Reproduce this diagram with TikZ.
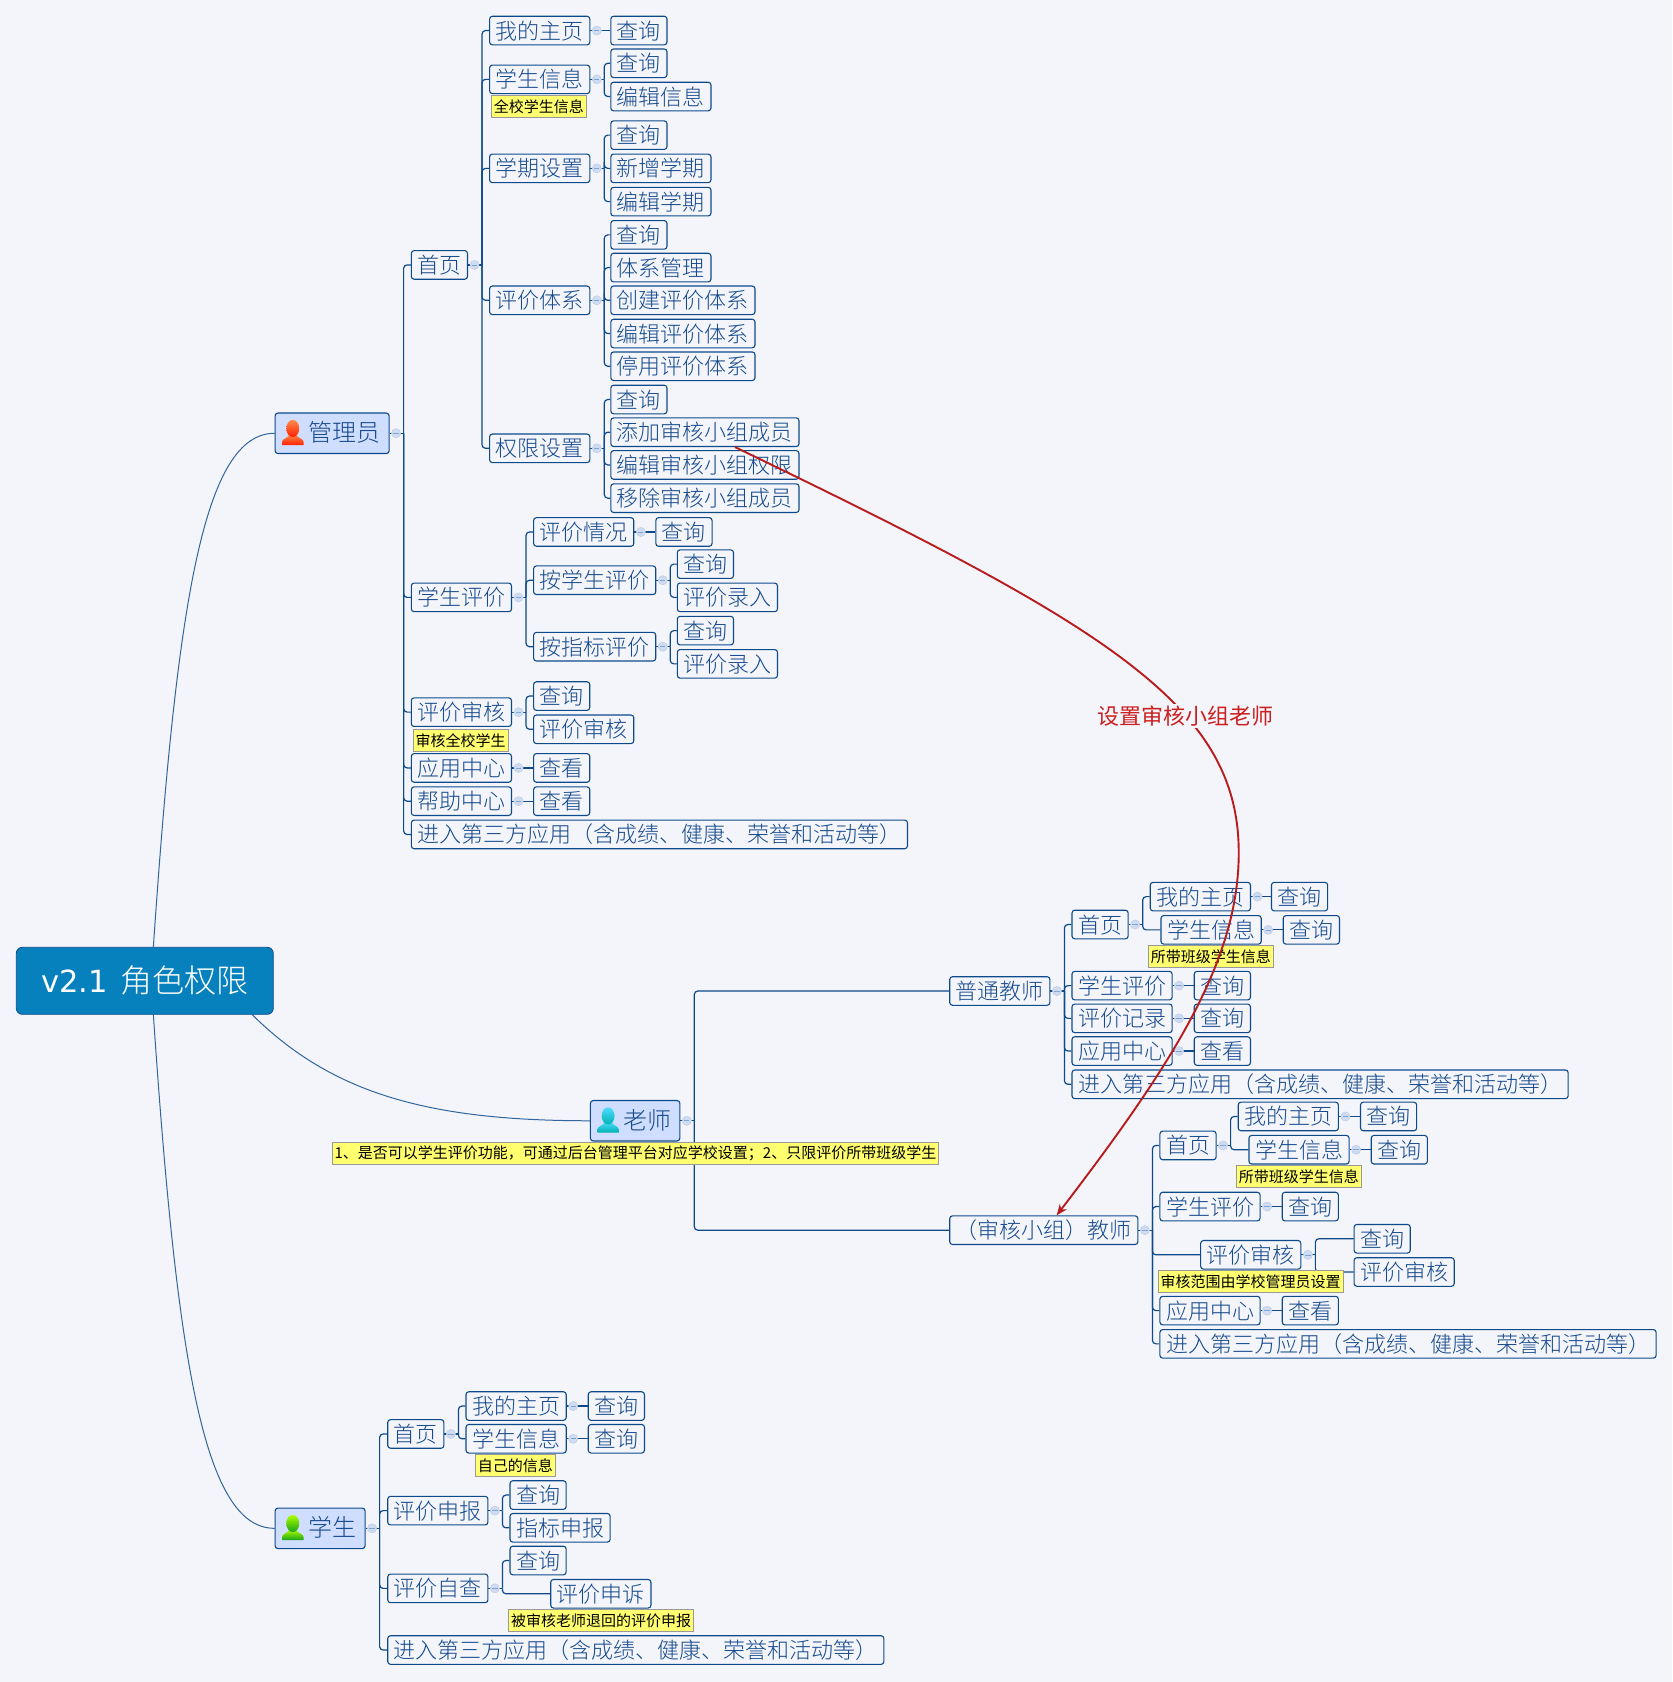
\documentclass[tikz,border=0pt]{standalone}
\usepackage{fontspec}
\setmainfont{Noto Sans CJK SC Light}
\newfontfamily\latinfont{DejaVu Sans}
\newfontfamily\notefont{Noto Sans CJK SC}
\usetikzlibrary{calc,arrows.meta}
\definecolor{pagebg}{HTML}{F3F5FB}
\definecolor{edgeblue}{HTML}{0E4A8A}
\definecolor{textblue}{HTML}{174A8C}
\definecolor{mainfill}{HTML}{CFDDFF}
\definecolor{notefill}{HTML}{FFFF70}
\definecolor{rootfill}{HTML}{0681BE}
\definecolor{foldfill}{HTML}{CDDBF5}
\definecolor{relred}{HTML}{B81C1C}
\definecolor{labelred}{HTML}{CC1F1F}
\pgfdeclarelayer{bg}\pgfdeclarelayer{edges}
\pgfsetlayers{bg,edges,main}
\tikzset{
  leaf/.style={draw=edgeblue,line width=1.1pt,rounded corners=2.8pt,fill=pagebg,anchor=west,
    inner xsep=6.1pt,inner ysep=0pt,minimum height=28.6pt,text height=18.5pt,text depth=1.5pt,
    text=textblue,font=\fontsize{22pt}{24pt}\selectfont},
  mainbox/.style={leaf,fill=mainfill,minimum height=40.5pt,font=\fontsize{24pt}{26pt}\selectfont},
  notebox/.style={draw=black!40,line width=.8pt,fill=notefill,inner xsep=2.5pt,inner ysep=0pt,
    minimum height=22pt,text height=13pt,text depth=1pt,text=black,font=\notefont\fontsize{15pt}{17pt}\selectfont},
  conn/.style={draw=edgeblue,line width=1.2pt},
  rootedge/.style={draw=edgeblue!85,line width=1pt},
}
\newcommand{\foldmark}[1]{%
  \fill[foldfill,draw=foldfill!80!gray,line width=.4pt] ($(#1.east)+(6,0)$) circle (4.6pt);
  \draw[edgeblue!50,line width=.6pt] ($(#1.east)+(3.5,0)$) -- ($(#1.east)+(8.5,0)$);
}
\newcommand{\fan}[2]{%
  \begin{pgfonlayer}{edges}
  \draw[conn] (#1.east) -- ++(13,0);
  \foreach \kid in {#2} {\draw[conn,rounded corners=3.5pt] ($(#1.east)+(13,0)$) |- (\kid.west);}
  \end{pgfonlayer}
  \foldmark{#1}
}
\newcommand{\single}[2]{%
  \begin{pgfonlayer}{edges}
  \draw[conn] (#1.east) -- (#2.west);
  \end{pgfonlayer}
  \foldmark{#1}
}
\newcommand{\person}[4]{%
  \begin{scope}[shift={(#1,#2)}]
  \shade[top color=#3,bottom color=#4] (0,23) -- (0,20) .. controls (0,17) and (5,17) .. (7,13) -- (13,13) .. controls (15,17) and (20,17) .. (20,20) -- (20,23) -- cycle;
  \shade[top color=#3,bottom color=#4] (10,7.5) ellipse (6 and 8);
  \end{scope}
}
\begin{document}
\begin{tikzpicture}[x=1.0725pt,y=-1.0725pt]
\begin{pgfonlayer}{bg}
\fill[pagebg] (0,0) rectangle (1559,1568.3);
\end{pgfonlayer}
\useasboundingbox (0,0) rectangle (1559,1568.3);

% root
\node[draw=edgeblue,fill=rootfill,rounded corners=6pt,line width=.8pt,minimum width=257pt,minimum height=67pt,text=white,
  font=\fontsize{32pt}{36pt}\selectfont] (root) at (135,914.5) {{\latinfont\fontsize{30.5pt}{36pt}\selectfont v2.1}\hspace{13pt}角色权限};

% main branches
\node[mainbox] (adm) at (256,404) {\hspace*{27pt}管理员\hspace*{2.8pt}};
\node[mainbox] (tea) at (550,1045) {\hspace*{27pt}老师\hspace*{2.2pt}};
\node[mainbox] (stu) at (256,1425) {\hspace*{27pt}学生\hspace*{2.8pt}};

% admin
\node[leaf] (a1) at (383,247) {首页};
\node[leaf] (a2) at (383,557) {学生评价};
\node[leaf] (a3) at (383,664) {评价审核};
\node[leaf] (a4) at (383,716) {应用中心};
\node[leaf] (a5) at (383,747) {帮助中心};
\node[leaf] (a6) at (383,778) {进入第三方应用（含成绩、健康、荣誉和活动等）};
\node[leaf] (a11) at (456,28.5) {我的主页};
\node[leaf] (a12) at (456,74) {学生信息};
\node[leaf] (a13) at (456,157) {学期设置};
\node[leaf] (a14) at (456,280) {评价体系};
\node[leaf] (a15) at (456,418) {权限设置};
\node[leaf] (a111) at (569,28.5) {查询};
\node[leaf] (a121) at (569,59) {查询};
\node[leaf] (a122) at (569,90) {编辑信息};
\node[leaf] (a131) at (569,126) {查询};
\node[leaf] (a132) at (569,157) {新增学期};
\node[leaf] (a133) at (569,188) {编辑学期};
\node[leaf] (a141) at (569,219) {查询};
\node[leaf] (a142) at (569,249.5) {体系管理};
\node[leaf] (a143) at (569,280) {创建评价体系};
\node[leaf] (a144) at (569,311) {编辑评价体系};
\node[leaf] (a145) at (569,341.5) {停用评价体系};
\node[leaf] (a151) at (569,372.5) {查询};
\node[leaf] (a152) at (569,403) {添加审核小组成员};
\node[leaf] (a153) at (569,433.5) {编辑审核小组权限};
\node[leaf] (a154) at (569,464.5) {移除审核小组成员};
\node[leaf] (a21) at (497,496) {评价情况};
\node[leaf] (a22) at (497,541) {按学生评价};
\node[leaf] (a23) at (497,603) {按指标评价};
\node[leaf] (a211) at (611,496) {查询};
\node[leaf] (a221) at (631,526) {查询};
\node[leaf] (a222) at (631,557) {评价录入};
\node[leaf] (a231) at (631,588) {查询};
\node[leaf] (a232) at (631,619) {评价录入};
\node[leaf] (a31) at (497,649) {查询};
\node[leaf] (a32) at (497,680) {评价审核};
\node[leaf] (a41) at (497,716) {查看};
\node[leaf] (a51) at (497,747) {查看};
\fan{adm}{a1,a2,a3,a4,a5,a6}
\fan{a1}{a11,a12,a13,a14,a15}
\single{a11}{a111}
\fan{a12}{a121,a122}
\fan{a13}{a131,a132,a133}
\fan{a14}{a141,a142,a143,a144,a145}
\fan{a15}{a151,a152,a153,a154}
\fan{a2}{a21,a22,a23}
\single{a21}{a211}
\fan{a22}{a221,a222}
\fan{a23}{a231,a232}
\fan{a3}{a31,a32}
\single{a4}{a41}
\single{a5}{a51}
\node[notebox] (n1) at (502.5,99.5) {全校学生信息};
\node[notebox] (n2) at (429.5,690) {审核全校学生};

% teacher
\node[leaf] (t1) at (885,924) {普通教师};
\node[leaf] (t2) at (885,1147) {（审核小组）教师};
\node[leaf] (t11) at (999,862) {首页};
\node[leaf] (t12) at (999,919) {学生评价};
\node[leaf] (t13) at (999,949.5) {评价记录};
\node[leaf] (t14) at (999,980) {应用中心};
\node[leaf] (t15) at (999,1011) {进入第三方应用（含成绩、健康、荣誉和活动等）};
\node[leaf] (t111) at (1072,836) {我的主页};
\node[leaf] (t112) at (1082,867) {学生信息};
\node[leaf] (t1111) at (1185,836) {查询};
\node[leaf] (t1121) at (1196,867) {查询};
\node[leaf] (t121) at (1113,919) {查询};
\node[leaf] (t131) at (1113,949.5) {查询};
\node[leaf] (t141) at (1113,980) {查看};
\node[leaf] (t21) at (1081,1068) {首页};
\node[leaf] (t22) at (1081,1125) {学生评价};
\node[leaf] (t23) at (1119,1170) {评价审核};
\node[leaf] (t24) at (1081,1222) {应用中心};
\node[leaf] (t25) at (1081,1253) {进入第三方应用（含成绩、健康、荣誉和活动等）};
\node[leaf] (t211) at (1154,1041) {我的主页};
\node[leaf] (t212) at (1164,1072) {学生信息};
\node[leaf] (t2111) at (1268,1041) {查询};
\node[leaf] (t2121) at (1278,1072) {查询};
\node[leaf] (t221) at (1195,1125) {查询};
\node[leaf] (t231) at (1262,1155) {查询};
\node[leaf] (t232) at (1262,1186) {评价审核};
\node[leaf] (t241) at (1195,1222) {查看};
\fan{tea}{t1,t2}
\fan{t1}{t11,t12,t13,t14,t15}
\fan{t11}{t111,t112}
\single{t111}{t1111}
\single{t112}{t1121}
\single{t12}{t121}
\single{t13}{t131}
\single{t14}{t141}
\fan{t2}{t21,t22,t23,t24,t25}
\fan{t21}{t211,t212}
\single{t211}{t2111}
\single{t212}{t2121}
\single{t22}{t221}
\fan{t23}{t231,t232}
\single{t24}{t241}
\node[notebox] (n3) at (592.5,1075) {1、是否可以学生评价功能，可通过后台管理平台对应学校设置；2、只限评价所带班级学生};
\node[notebox] (n4) at (1129,892) {所带班级学生信息};
\node[notebox] (n5) at (1211,1097) {所带班级学生信息};
\node[notebox] (n6) at (1166,1195) {审核范围由学校管理员设置};

% student
\node[leaf] (s1) at (361,1337) {首页};
\node[leaf] (s2) at (361,1408.5) {评价申报};
\node[leaf] (s3) at (361,1481) {评价自查};
\node[leaf] (s4) at (361,1538.5) {进入第三方应用（含成绩、健康、荣誉和活动等）};
\node[leaf] (s11) at (434,1311) {我的主页};
\node[leaf] (s12) at (434,1341.5) {学生信息};
\node[leaf] (s111) at (548,1311) {查询};
\node[leaf] (s121) at (548,1341.5) {查询};
\node[leaf] (s21) at (475,1394) {查询};
\node[leaf] (s22) at (475,1424.5) {指标申报};
\node[leaf] (s31) at (475,1455) {查询};
\node[leaf] (s32) at (513,1486) {评价申诉};
\fan{stu}{s1,s2,s3,s4}
\fan{s1}{s11,s12}
\single{s11}{s111}
\single{s12}{s121}
\fan{s2}{s21,s22}
\fan{s3}{s31,s32}
\node[notebox] (n7) at (480.5,1366.5) {自己的信息};
\node[notebox] (n8) at (560.5,1511) {被审核老师退回的评价申报};

% root edges
\begin{pgfonlayer}{edges}
\draw[rootedge] ($(root.north)+(8,0)$) .. controls (165,560) and (190,404) .. (adm.west);
\draw[rootedge] ($(root.south)+(8,0)$) .. controls (165,1270) and (190,1425) .. (stu.west);
\draw[rootedge] ($(root.south east)+(-20,0)$) .. controls (310,1020) and (400,1045) .. (tea.west);
\end{pgfonlayer}

% icons
\person{263}{392}{orange!70!red!70}{red!75!orange}
\person{557}{1033}{cyan!80!blue!70}{cyan!70!black}
\person{263}{1413}{lime!90!green}{green!60!black!90}

% relationship
\draw[relred,line width=1.9pt,-{Stealth[length=11pt,width=9pt]}] ($(a152.south)+(28,0)$) .. controls (1032,584) and (1155,657) .. (1155,795) .. controls (1155,895) and (1095,990) .. ($(t2.north)+(12,0)$);
\node[fill=pagebg,inner sep=2pt,text=labelred,font=\notefont\fontsize{22pt}{24pt}\selectfont,text height=18.5pt,text depth=1.5pt] (rel) at (1105,668) {设置审核小组老师};
\end{tikzpicture}
\end{document}
